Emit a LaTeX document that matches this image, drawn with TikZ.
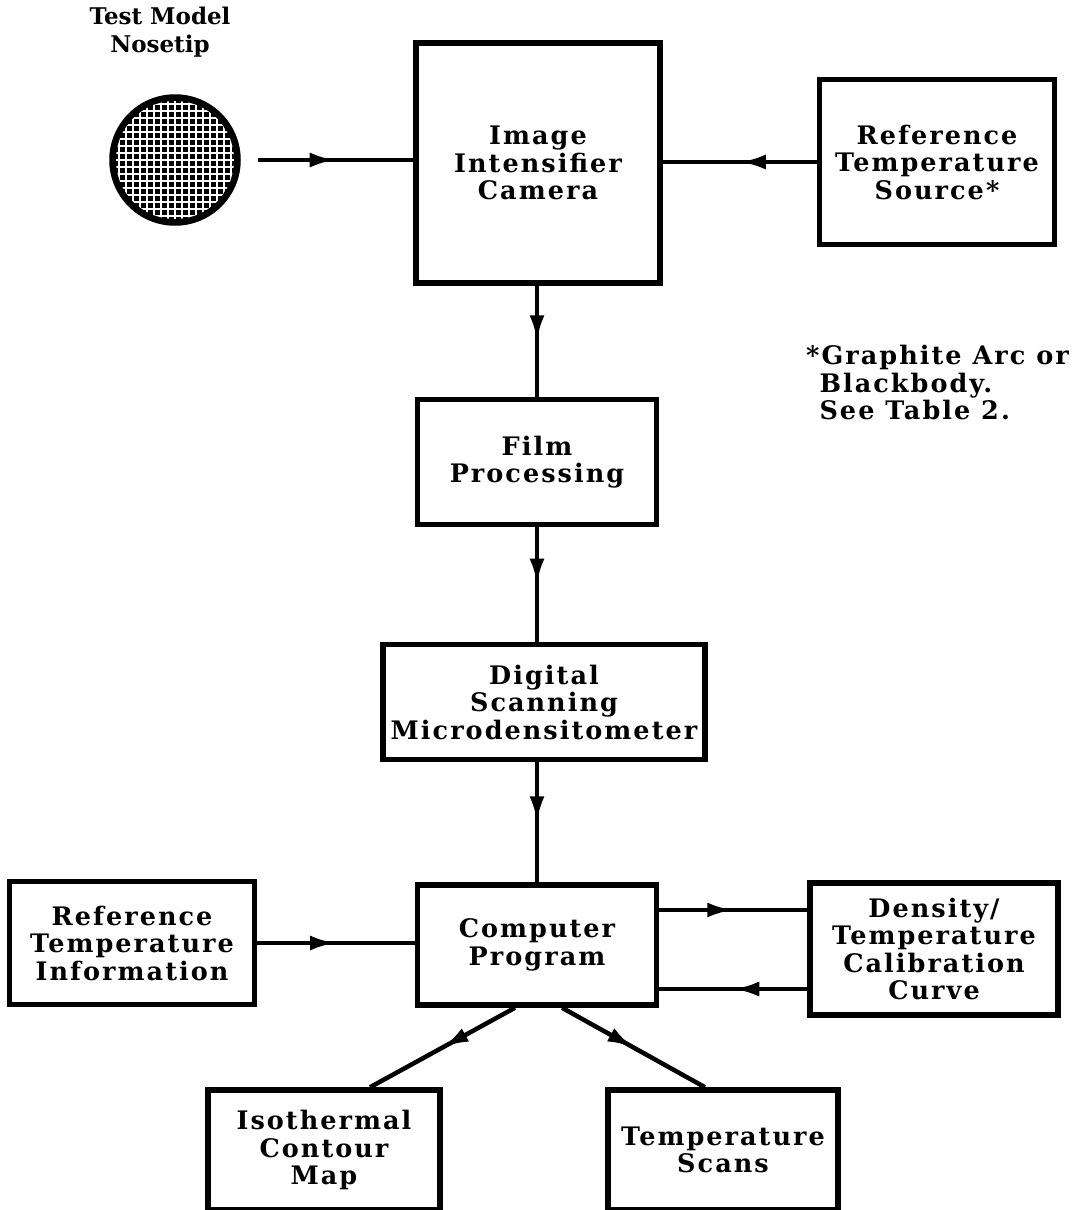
\documentclass[tikz,border=0pt]{standalone}
\usepackage{fontspec}
\setmainfont{DejaVu Serif}
\newfontfamily\boxfont{DejaVu Serif}[LetterSpace=8]
\usetikzlibrary{arrows.meta,decorations.markings}
\begin{document}
\begin{tikzpicture}[x=1pt,y=-1pt,
  txt/.style={align=center,font=\boxfont\fontsize{25.5}{27.5}\selectfont\bfseries,inner sep=0pt},
  box/.style={txt,draw,line width=5.5pt,rectangle},
  conn/.style={line width=4.5pt,postaction={decorate},
    decoration={markings,mark=at position 0.5 with {\arrow{Latex[length=26pt,width=15pt]}}}}]
\useasboundingbox (0,0) rectangle (1072,1210);
% nosetip
\node[align=center,inner sep=0pt,font=\fontsize{23}{27.5}\selectfont\bfseries] (nlabel) at (160,32) {Test Model\\Nosetip};
\node[circle,minimum size=126pt,inner sep=0pt] (nose) at (175,160) {};
\fill[black] (nose.center) circle (63);
\begin{scope}
  \clip (nose.center) circle (59);
  \foreach \i in {-9,...,9} {
    \draw[white,line width=1.8pt] (175+\i*7,90) -- (175+\i*7,230);
    \draw[white,line width=1.8pt] (105,160+\i*7) -- (245,160+\i*7);
  }
\end{scope}
\draw[line width=5.5pt] (nose.center) circle (63);
% boxes
\node[box,minimum width=244pt,minimum height=240pt] (cam) at (538,163) {Image\\Intensifier\\Camera};
\node[box,minimum width=235pt,minimum height=165pt] (ref) at (937,162) {Reference\\Temperature\\Source*};
\node[box,minimum width=239pt,minimum height=125pt] (film) at (537,462) {Film\\Processing};
\node[box,minimum width=322pt,minimum height=115pt] (dig) at (544,702) {Digital\\Scanning\\Microdensitometer};
\node[box,minimum width=239pt,minimum height=120pt] (comp) at (537,945) {Computer\\Program};
\node[box,minimum width=245pt,minimum height=123pt] (rinfo) at (132,943) {Reference\\Temperature\\Information};
\node[box,minimum width=248pt,minimum height=132pt] (dens) at (934,949) {Density/\\Temperature\\Calibration\\Curve};
\node[box,minimum width=232pt,minimum height=120pt] (iso) at (324,1150) {Isothermal\\Contour\\Map};
\node[box,minimum width=230pt,minimum height=120pt] (scans) at (723,1150) {Temperature\\Scans};
% footnote
\node[txt,align=left,anchor=north west] (foot) at (806,345) {*Graphite Arc or\\\phantom{*}Blackbody.\\\phantom{*}See Table 2.};
% connectors
\coordinate (n1) at ([xshift=20pt]nose.east);
\draw[conn] (n1) -- (n1 -| cam.west);
\coordinate (r1) at (ref.west);
\draw[conn] (r1) -- (r1 -| cam.east);
\draw[conn] (film.north |- cam.south) -- (film.north);
\draw[conn] (film.south) -- (film.south |- dig.north);
\draw[conn] (comp.north |- dig.south) -- (comp.north);
\draw[conn] (rinfo.east) -- (rinfo.east -| comp.west);
\coordinate (c1) at ([yshift=35pt]comp.east);
\draw[conn] (c1) -- (c1 -| dens.west);
\coordinate (c2) at ([yshift=-40pt]dens.west);
\draw[conn] (c2) -- (c2 -| comp.east);
\coordinate (d1) at ([xshift=-22pt]comp.south);
\coordinate (d2) at ([xshift=46pt]iso.north);
\draw[conn] (d1) -- (d2);
\coordinate (d3) at ([xshift=25pt]comp.south);
\coordinate (d4) at ([xshift=-18pt]scans.north);
\draw[conn] (d3) -- (d4);
\end{tikzpicture}
\end{document}
